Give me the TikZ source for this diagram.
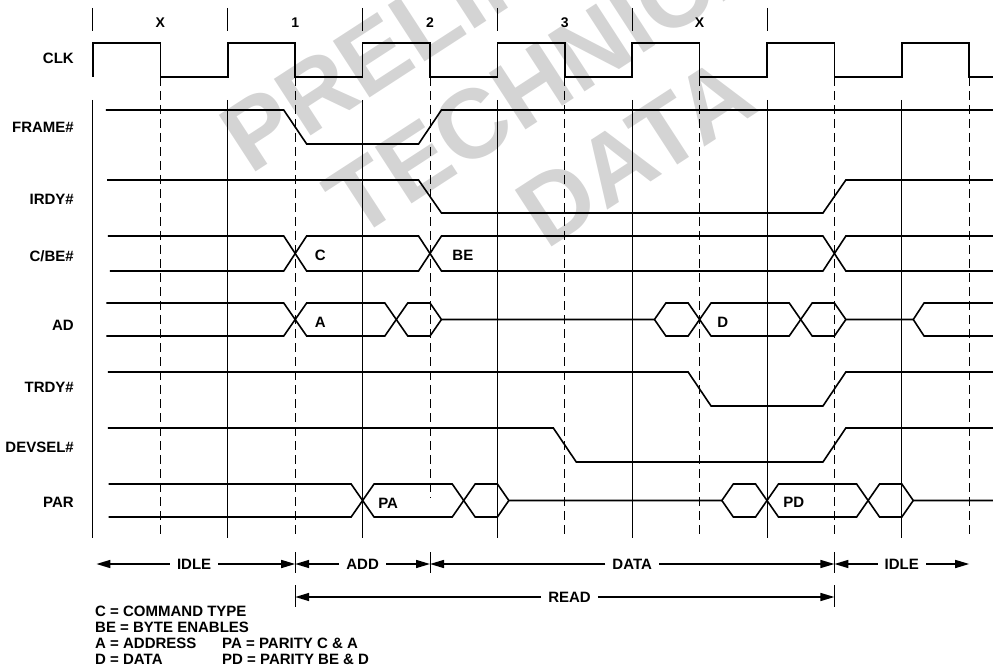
\documentclass[tikz,border=0pt]{standalone}
\usepackage{fontspec}
\setmainfont{Liberation Sans}
\usepackage{tikz}
\usetikzlibrary{arrows.meta}
\newcommand{\sigfont}{\fontsize{15}{16}\selectfont\bfseries}
\tikzstyle{sigline}=[line width=1.6pt, line join=miter]
\tikzstyle{gridline}=[line width=1pt]
\tikzstyle{gridedge}=[line width=1pt, dash pattern=on 9pt off 5pt]
\tikzstyle{rowlabel}=[anchor=base east, inner sep=0pt, font=\sigfont]
\tikzstyle{cyclelabel}=[anchor=base, inner sep=0pt,
font=\fontsize{14}{15}\selectfont\bfseries]
\tikzstyle{buslabel}=[anchor=base west, inner sep=0pt, font=\sigfont]
\tikzstyle{phaselabel}=[inner xsep=7pt, inner ysep=0pt, font=\sigfont]
\tikzstyle{phasearrow}=[-{Triangle[length=14pt,width=8pt]}, line width=1.5pt]
\tikzstyle{phasebar}=[line width=1pt]
\tikzstyle{legendtext}=[anchor=base west, inner sep=0pt, font=\sigfont]
\tikzstyle{watermark}=[rotate=33, align=center, inner sep=0pt, text=black!17,
font=\fontsize{98}{112}\selectfont\bfseries]

\begin{document}
\begin{tikzpicture}[x=67.4pt, y=-1pt]
    \useasboundingbox (-1.3798,0) rectangle (13.3531,671);
    \begin{scope}
        \clip (-1.3798,0) rectangle (13.3531,671);
        \node[watermark] (wmark) at (7.15,58) {PRELIMINARY\\TECHNICAL\\DATA};
    \end{scope}

    % clock numbering and grid
    \foreach \k in {0,2,...,10} \draw[gridline] (\k,8) -- (\k,31);
    \foreach \k/\c in {1/X,3/1,5/2,7/3,9/X}
        \node[cyclelabel] (cyc\k) at (\k,28) {\c};
    \foreach \k in {0,2,...,12} \draw[gridline] (\k,100) -- (\k,538);
    \foreach \k/\e in {1/538,3/538,5/498,7/538,9/538,11/538,13/538}
        \draw[gridedge] (\k,77) -- (\k,\e);

    \node[rowlabel] (clk) at (-0.282,64) {CLK};
    \node[rowlabel] (frame) at (-0.282,133) {FRAME\#};
    \node[rowlabel] (irdy) at (-0.282,205) {IRDY\#};
    \node[rowlabel] (cbe) at (-0.282,261) {C/BE\#};
    \node[rowlabel] (ad) at (-0.282,330) {AD};
    \node[rowlabel] (trdy) at (-0.282,392) {TRDY\#};
    \node[rowlabel] (devsel) at (-0.282,452) {DEVSEL\#};
    \node[rowlabel] (par) at (-0.282,507) {PAR};

    % signals
    \draw[sigline] (0,77) \foreach \k in {0,2,...,12} {
        -- (\k,77) -- (\k,43) -- (\k+1,43) -- (\k+1,77) } -- (13.3531,77);
    \draw[sigline] (0.19,110) -- (2.83,110) -- (3.17,144) -- (4.83,144)
        -- (5.17,110) -- (13.3531,110);
    \draw[sigline] (0.21,180) -- (4.83,180) -- (5.17,213) -- (10.83,213)
        -- (11.17,180) -- (13.3531,180);
    \draw[sigline] (0.22,236) -- (2.83,236) -- (3.17,271) -- (4.83,271)
        -- (5.17,236) -- (10.83,236) -- (11.17,271) -- (13.3531,271);
    \draw[sigline] (0.25,271) -- (2.83,271) -- (3.17,236) -- (4.83,236)
        -- (5.17,271) -- (10.83,271) -- (11.17,236) -- (13.3531,236);
    \draw[sigline] (0.2,303) -- (2.83,303) -- (3.17,336) -- (4.33,336)
        -- (4.67,303) -- (5,303) -- (5.17,319.5) -- (8.33,319.5) -- (8.5,303)
        -- (8.83,303) -- (9.17,336) -- (10.33,336) -- (10.67,303) -- (11,303)
        -- (11.17,319.5) -- (12.17,319.5) -- (12.33,303) -- (13.3531,303);
    \draw[sigline] (0.2,336) -- (2.83,336) -- (3.17,303) -- (4.33,303)
        -- (4.67,336) -- (5,336) -- (5.17,319.5)
        (8.33,319.5) -- (8.5,336) -- (8.83,336) -- (9.17,303) -- (10.33,303)
        -- (10.67,336) -- (11,336) -- (11.17,319.5)
        (12.17,319.5) -- (12.33,336) -- (13.3531,336);
    \draw[sigline] (0.22,372) -- (8.83,372) -- (9.17,406) -- (10.83,406)
        -- (11.17,372) -- (13.3531,372);
    \draw[sigline] (0.22,428) -- (6.83,428) -- (7.17,462) -- (10.83,462)
        -- (11.17,428) -- (13.3531,428);
    \draw[sigline] (0.23,484) -- (3.83,484) -- (4.17,517) -- (5.33,517)
        -- (5.67,484) -- (6,484) -- (6.17,500.5) -- (9.33,500.5) -- (9.5,484)
        -- (9.83,484) -- (10.17,517) -- (11.33,517) -- (11.67,484) -- (12,484)
        -- (12.17,500.5) -- (13.3531,500.5);
    \draw[sigline] (0.23,517) -- (3.83,517) -- (4.17,484) -- (5.33,484)
        -- (5.67,517) -- (6,517) -- (6.17,500.5)
        (9.33,500.5) -- (9.5,517) -- (9.83,517) -- (10.17,484) -- (11.33,484)
        -- (11.67,517) -- (12,517) -- (12.17,500.5);

    \node[buslabel] (cmd) at (3.29,260) {C};
    \node[buslabel] (ben) at (5.33,260) {BE};
    \node[buslabel] (addr) at (3.29,327) {A};
    \node[buslabel] (dat) at (9.26,327) {D};
    \node[buslabel] (pa) at (4.23,508) {PA};
    \node[buslabel] (pd) at (10.24,507) {PD};

    % phases
    \node[phaselabel] (idlea) at (1.5,564) {IDLE};
    \node[phaselabel] (addph) at (4,564) {ADD};
    \node[phaselabel] (dataph) at (8,564) {DATA};
    \node[phaselabel] (idleb) at (12,564) {IDLE};
    \node[phaselabel] (readph) at (7.07,597) {READ};
    \coordinate (idleabeg) at (0.05,564);
    \coordinate (addbeg) at (3,564);
    \coordinate (databeg) at (5,564);
    \coordinate (idlebbeg) at (11,564);
    \coordinate (idlebend) at (13,564);
    \coordinate (readbeg) at (3,597);
    \coordinate (readend) at (11,597);
    \foreach \k in {3,5,11} \draw[phasebar] (\k,552) -- (\k,573);
    \foreach \k in {3,11} \draw[phasebar] (\k,585) -- (\k,607);
    \path[phasearrow]
    (idlea) edge (idleabeg)
    (idlea) edge (addbeg)
    (addph) edge (addbeg)
    (addph) edge (databeg)
    (dataph) edge (databeg)
    (dataph) edge (idlebbeg)
    (idleb) edge (idlebbeg)
    (idleb) edge (idlebend)
    (readph) edge (readbeg)
    (readph) edge (readend);

    \node[legendtext] (legc) at (0.03,616) {C = COMMAND TYPE};
    \node[legendtext] (legbe) at (0.03,632) {BE = BYTE ENABLES};
    \node[legendtext] (lega) at (0.03,648) {A = ADDRESS};
    \node[legendtext] (legd) at (0.03,664) {D = DATA};
    \node[legendtext] (legpa) at (1.914,648) {PA = PARITY C \& A};
    \node[legendtext] (legpd) at (1.914,664) {PD = PARITY BE \& D};
\end{tikzpicture}
\end{document}
